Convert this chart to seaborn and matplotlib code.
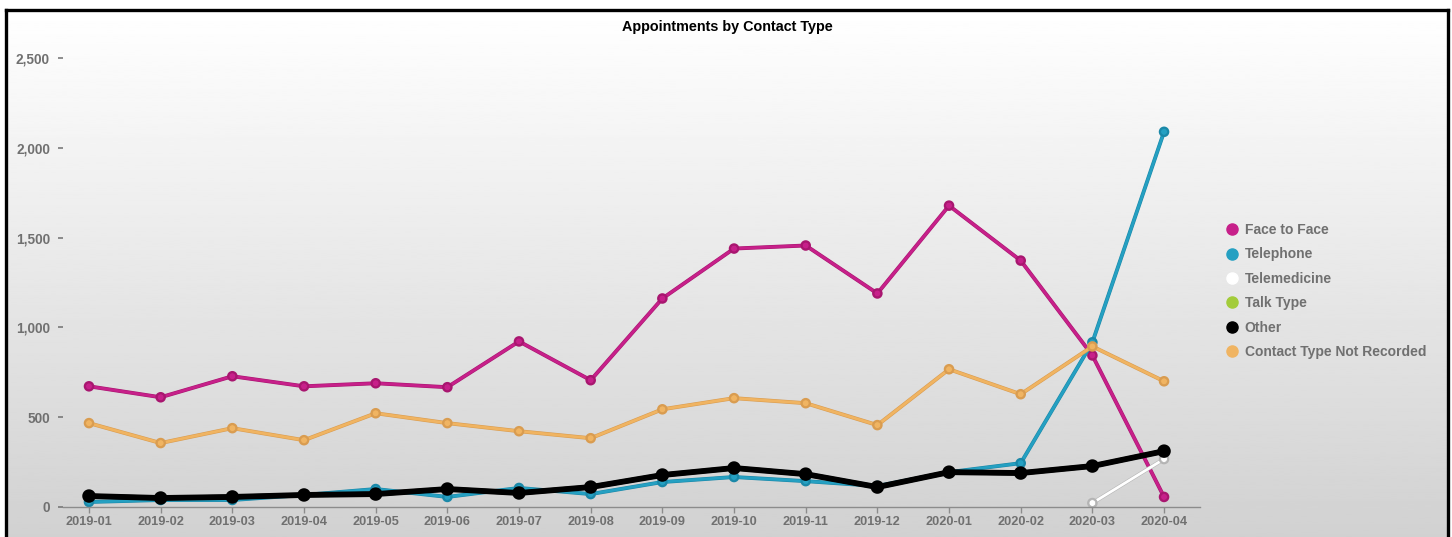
import numpy as np
import pandas as pd
import matplotlib
matplotlib.use("Agg")
import matplotlib.pyplot as plt
import matplotlib.patheffects as pe
from matplotlib.lines import Line2D
from matplotlib.ticker import FuncFormatter
import seaborn as sns

# ---- data -------------------------------------------------------------
months = ["2019-01", "2019-02", "2019-03", "2019-04", "2019-05", "2019-06",
          "2019-07", "2019-08", "2019-09", "2019-10", "2019-11", "2019-12",
          "2020-01", "2020-02", "2020-03", "2020-04"]

face_to_face = [672, 611, 728, 672, 689, 667, 922, 706, 1161, 1439, 1456,
                1189, 1678, 1372, 844, 56]
telephone = [28, 39, 39, 67, 100, 56, 106, 72, 139, 167, 144, 117, 194,
             244, 917, 2089]
telemedicine = [np.nan] * 14 + [22, 267]
talk_type = [np.nan] * 16
other = [61, 50, 56, 67, 72, 100, 78, 111, 178, 217, 183, 111, 194, 189,
         228, 311]
not_recorded = [467, 356, 439, 372, 522, 467, 422, 383, 544, 606, 578, 456,
                767, 628, 894, 700]

series_names = ["Face to Face", "Telephone", "Telemedicine", "Talk Type",
                "Other", "Contact Type Not Recorded"]
series_values = [face_to_face, telephone, telemedicine, talk_type, other,
                 not_recorded]
y_ticks = [0, 500, 1000, 1500, 2000, 2500]

palette = {
    "Face to Face": "#c7208a",
    "Telephone": "#25a0c2",
    "Telemedicine": "#ffffff",
    "Talk Type": "#a3cc3a",
    "Other": "#000000",
    "Contact Type Not Recorded": "#f0b462",
}
edge_shade = {
    "Face to Face": "#a8166f",
    "Telephone": "#1a88a8",
    "Telemedicine": "#b4b4b4",
    "Talk Type": "#80a82a",
    "Other": "#000000",
    "Contact Type Not Recorded": "#d99c50",
}

df = pd.DataFrame({
    "pos": np.tile(np.arange(len(months)), len(series_names)),
    "month": months * len(series_names),
    "type": np.repeat(series_names, len(months)),
    "value": np.concatenate([np.asarray(v, dtype=float) for v in series_values]),
})

# ---- figure -----------------------------------------------------------
sns.set_style("white")
plt.rcParams["font.family"] = ["Liberation Sans", "DejaVu Sans"]

W, H = 1452, 537
fig = plt.figure(figsize=(W / 100, H / 100), dpi=100, facecolor="white")

# grey gradient panel with a black frame
bg = fig.add_axes([6 / W, 0, (1448 - 6) / W, 1 - 10 / H], zorder=-10)
grad = np.linspace(1.0, 0.82, 256).reshape(-1, 1)
bg.imshow(grad, aspect="auto", cmap="gray", vmin=0, vmax=1,
          extent=[0, 1, 0, 1], origin="upper")
bg.set_axis_off()
frame_kw = dict(color="black", lw=2.4, transform=fig.transFigure,
                solid_capstyle="projecting")
fig.add_artist(Line2D([6 / W, 1448 / W], [1 - 10 / H, 1 - 10 / H], **frame_kw))
fig.add_artist(Line2D([6 / W, 6 / W], [0, 1 - 10 / H], **frame_kw))
fig.add_artist(Line2D([1448 / W, 1448 / W], [0, 1 - 10 / H], **frame_kw))

x0_px, step_px = 89, 71.67
ax_left, ax_right = 63, 1200
ax_bottom, ax_top = 507, 58
ax = fig.add_axes([ax_left / W, 1 - ax_bottom / H,
                   (ax_right - ax_left) / W, (ax_bottom - ax_top) / H])
ax.set_facecolor("none")

for name in series_names:
    sub = df[(df["type"] == name)].dropna(subset=["value"])
    if sub.empty:
        continue
    lw = 3.4 if name == "Other" else 2.0
    ms = 5.5 if name == "Other" else 4.8
    sns.lineplot(data=sub, x="pos", y="value", ax=ax, color=palette[name],
                 lw=lw, marker="o", markersize=ms, markeredgewidth=0.5,
                 markeredgecolor=edge_shade[name], legend=False,
                 path_effects=[pe.Stroke(linewidth=lw + 0.8,
                                         foreground=edge_shade[name]),
                               pe.Normal()])

ax.set_xlim((ax_left - x0_px) / step_px, (ax_right - x0_px) / step_px)
ax.set_ylim(0, 2500)
ax.set_xticks(np.arange(len(months)))
ax.set_xticklabels(months)
ax.set_yticks(y_ticks)
ax.yaxis.set_major_formatter(FuncFormatter(lambda v, _: f"{int(v):,}"))
ax.set_xlabel("")
ax.set_ylabel("")

for side in ("top", "right", "left"):
    ax.spines[side].set_visible(False)
ax.spines["bottom"].set_color("#8c8c8c")
ax.spines["bottom"].set_linewidth(1.0)

tick_color = "#707070"
ax.tick_params(axis="x", bottom=True, direction="out", length=4, width=1,
               color="#8c8c8c", pad=2.5, labelsize=9.2, labelcolor=tick_color)
ax.tick_params(axis="y", left=True, direction="out", length=3.6, width=1.1,
               color=tick_color, pad=5.8, labelsize=9.8, labelcolor=tick_color)
for lab in ax.get_xticklabels() + ax.get_yticklabels():
    lab.set_fontweight("bold")

fig.text(727 / W, 1 - 27 / H, "Appointments by Contact Type", ha="center",
         va="center", fontsize=10.4, fontweight="bold", color="black")

handles = [Line2D([], [], linestyle="", marker="o", markersize=8,
                  markerfacecolor=palette[n], markeredgecolor=palette[n])
           for n in series_names]
leg = fig.legend(handles, series_names, loc="center left",
                 bbox_to_anchor=(1226 / W, 1 - 291 / H), frameon=False,
                 fontsize=10, handlelength=0.8, handletextpad=0.55,
                 labelspacing=0.75, borderpad=0, borderaxespad=0)
for t in leg.get_texts():
    t.set_color(tick_color)
    t.set_fontweight("bold")

fig.savefig("out.png", dpi=100, facecolor="white")
